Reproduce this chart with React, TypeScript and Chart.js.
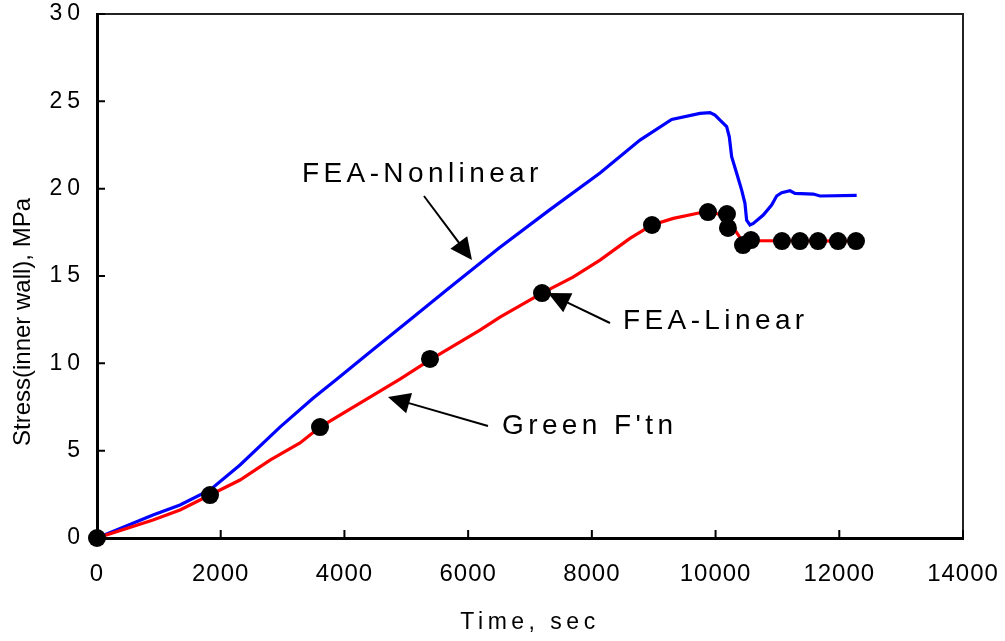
import React, { useEffect, useRef } from "react";
import { Chart, registerables } from "chart.js";

Chart.register(...registerables);

// ---- Data ----
const nonlinearTime = [0, 905, 1342, 1827, 2312, 2958, 3492, 3880, 4365, 5060, 5707, 6500, 7323, 8132, 8778, 9290, 9748, 9910, 9991, 10072, 10179, 10222, 10260, 10341, 10422, 10475, 10502, 10556, 10610, 10771, 10906, 10987, 11068, 11203, 11284, 11580, 11688, 12281];
const nonlinearStress = [0, 1.32, 1.89, 2.75, 4.18, 6.35, 8.0, 9.1, 10.5, 12.5, 14.35, 16.6, 18.8, 20.9, 22.78, 23.96, 24.31, 24.35, 24.21, 23.93, 23.55, 22.97, 21.83, 20.88, 19.92, 19.16, 18.2, 17.92, 18.01, 18.49, 19.06, 19.58, 19.77, 19.88, 19.73, 19.69, 19.58, 19.62];

const linearTime = [0, 905, 1342, 1827, 2312, 2797, 3282, 3605, 4898, 5383, 6191, 6515, 7194, 7695, 8132, 8616, 8972, 9317, 9748, 10018, 10179, 10314, 10422, 10664, 12281];
const linearStress = [0, 1.03, 1.6, 2.46, 3.32, 4.46, 5.44, 6.35, 9.1, 10.2, 11.9, 12.65, 14.02, 14.94, 15.91, 17.15, 17.92, 18.3, 18.62, 18.58, 18.39, 17.63, 17.06, 17.02, 17.0];

const greenTime = [0, 1827, 3605, 5383, 7194, 8972, 9877, 10184, 10200, 10443, 10572, 11073, 11365, 11656, 11979, 12270];
const greenStress = [0, 2.46, 6.35, 10.25, 14.02, 17.92, 18.66, 18.55, 17.75, 16.77, 17.06, 17.0, 17.0, 17.0, 17.0, 17.0];

const xTickMin = 0;
const xTickMax = 14000;
const xTickStep = 2000;
const yTickMin = 0;
const yTickMax = 30;
const yTickStep = 5;

const xAxisTitle = "Time, sec";
const yAxisTitle = "Stress(inner wall), MPa";

const annotationLabels = ["FEA-Nonlinear", "FEA-Linear", "Green F'tn"];
const labelTime = [3314, 8503, 6547];
const labelStress = [20.38, 11.96, 5.95];
const arrowTailTime = [5286, 8293, 6321];
const arrowTailStress = [19.58, 12.31, 6.41];
const arrowTipTime = [6062, 7291, 4704];
const arrowTipStress = [15.91, 14.02, 8.07];

const FONT = "'Liberation Sans', Arial, sans-serif";

const toPoints = (xs: number[], ys: number[]) => xs.map((x, i) => ({ x, y: ys[i] }));

function wrapOnce(obj: any, name: string, before: (ctx: any) => void) {
  const key = "__wrapped_" + name;
  if (!obj || obj[key]) return;
  const orig = obj[name];
  obj[name] = function (...args: any[]) {
    const ctx = this.ctx;
    ctx.save();
    before(ctx);
    const r = orig.apply(this, args);
    ctx.restore();
    return r;
  };
  obj[key] = true;
}

const stylePlugin = {
  id: "stylePlugin",
  beforeDraw(chart: any) {
    const { x, y } = chart.scales;
    wrapOnce(x, "drawLabels", (ctx) => { ctx.letterSpacing = "1px"; });
    wrapOnce(y, "drawLabels", (ctx) => { ctx.letterSpacing = "5px"; });
    wrapOnce(x, "drawTitle", (ctx) => { ctx.letterSpacing = "4.5px"; });
    wrapOnce(y, "drawTitle", (ctx) => { ctx.translate(0, 46); });
  },
  beforeDatasetsDraw(chart: any) {
    const { ctx, chartArea: a, scales } = chart;
    ctx.save();
    // top & right frame
    ctx.strokeStyle = "#222";
    ctx.lineWidth = 2;
    ctx.beginPath();
    ctx.moveTo(a.left, a.top);
    ctx.lineTo(a.right, a.top);
    ctx.lineTo(a.right, a.bottom);
    ctx.stroke();
    // inner tick marks
    ctx.strokeStyle = "#000";
    ctx.lineWidth = 2;
    ctx.beginPath();
    scales.x.ticks.forEach((t: any) => {
      const px = scales.x.getPixelForValue(t.value);
      ctx.moveTo(px, a.bottom);
      ctx.lineTo(px, a.bottom - 8);
    });
    scales.y.ticks.forEach((t: any) => {
      const py = scales.y.getPixelForValue(t.value);
      ctx.moveTo(a.left, py);
      ctx.lineTo(a.left + 8, py);
    });
    ctx.stroke();
    ctx.restore();
  },
  afterDraw(chart: any) {
    const { ctx, scales } = chart;
    ctx.save();
    ctx.fillStyle = "#000";
    ctx.strokeStyle = "#000";
    ctx.font = `28px ${FONT}`;
    ctx.textBaseline = "alphabetic";
    ctx.textAlign = "left";
    (ctx as any).letterSpacing = "4.4px";
    annotationLabels.forEach((label, i) => {
      const tx = scales.x.getPixelForValue(labelTime[i]);
      const ty = scales.y.getPixelForValue(labelStress[i]);
      ctx.fillText(label, tx, ty);
      const x0 = scales.x.getPixelForValue(arrowTailTime[i]);
      const y0 = scales.y.getPixelForValue(arrowTailStress[i]);
      const x1 = scales.x.getPixelForValue(arrowTipTime[i]);
      const y1 = scales.y.getPixelForValue(arrowTipStress[i]);
      const dx = x1 - x0, dy = y1 - y0;
      const len = Math.hypot(dx, dy);
      const ux = dx / len, uy = dy / len;
      const hl = 22, hw = 10.5;
      const bx = x1 - ux * hl, by = y1 - uy * hl;
      ctx.lineWidth = 2;
      ctx.beginPath();
      ctx.moveTo(x0, y0);
      ctx.lineTo(bx + ux * 2, by + uy * 2);
      ctx.stroke();
      ctx.beginPath();
      ctx.moveTo(x1, y1);
      ctx.lineTo(bx - uy * hw, by + ux * hw);
      ctx.lineTo(bx + uy * hw, by - ux * hw);
      ctx.closePath();
      ctx.fill();
    });
    ctx.restore();
  },
};

export default function App() {
  const ref = useRef<HTMLCanvasElement>(null);
  useEffect(() => {
    const chart = new Chart(ref.current as HTMLCanvasElement, {
      type: "line",
      data: {
        datasets: [
          {
            label: "Green F'tn",
            data: toPoints(greenTime, greenStress),
            showLine: false,
            pointRadius: 9,
            pointHoverRadius: 9,
            pointBackgroundColor: "#000",
            pointBorderColor: "#000",
            pointBorderWidth: 0,
            borderColor: "#000",
            backgroundColor: "#000",
            clip: false as any,
          },
          {
            label: "FEA-Linear",
            data: toPoints(linearTime, linearStress),
            borderColor: "#ff0000",
            backgroundColor: "#ff0000",
            borderWidth: 3.2,
            pointRadius: 0,
            tension: 0,
            fill: false,
          },
          {
            label: "FEA-Nonlinear",
            data: toPoints(nonlinearTime, nonlinearStress),
            borderColor: "#0000ff",
            backgroundColor: "#0000ff",
            borderWidth: 3.2,
            pointRadius: 0,
            tension: 0,
            fill: false,
          },
        ],
      },
      options: {
        animation: false,
        responsive: false,
        maintainAspectRatio: false,
        devicePixelRatio: 1,
        layout: { padding: { top: 14, right: 42, left: 0, bottom: 0 } },
        plugins: {
          legend: { display: false },
          tooltip: { enabled: false },
        },
        scales: {
          x: {
            type: "linear",
            min: xTickMin,
            max: xTickMax,
            afterFit: (s: any) => { s.height = 103; s.paddingLeft = 0; s.paddingRight = 0; },
            ticks: {
              stepSize: xTickStep,
              color: "#000",
              font: { family: FONT, size: 24 },
              padding: 22,
              maxRotation: 0,
              callback: (v: any) => String(v),
            },
            grid: { display: true, drawOnChartArea: false, drawTicks: false },
            border: { display: true, color: "#000", width: 3 },
            title: {
              display: true,
              text: xAxisTitle,
              color: "#000",
              font: { family: FONT, size: 23 },
              padding: { top: 0, bottom: 5 },
            },
          },
          y: {
            type: "linear",
            min: yTickMin,
            max: yTickMax,
            afterFit: (s: any) => { s.width = 97; s.paddingTop = 0; s.paddingBottom = 0; },
            ticks: {
              stepSize: yTickStep,
              color: "#000",
              font: { family: FONT, size: 23 },
              padding: 12,
              callback: (v: any) => String(v),
            },
            grid: { display: true, drawOnChartArea: false, drawTicks: false },
            border: { display: true, color: "#000", width: 3 },
            title: {
              display: true,
              text: yAxisTitle,
              color: "#000",
              font: { family: "'Liberation Sans Narrow', 'Arial Narrow', " + FONT, size: 24 },
              padding: { top: 9, bottom: 0 },
            },
          },
        },
      },
      plugins: [stylePlugin],
    } as any);
    return () => chart.destroy();
  }, []);
  return (
    <div style={{ position: "absolute", left: 0, top: 0, width: 1005, height: 641, background: "#fff" }}>
      <canvas ref={ref} width={1005} height={641} style={{ display: "block", width: 1005, height: 641 }} />
    </div>
  );
}
